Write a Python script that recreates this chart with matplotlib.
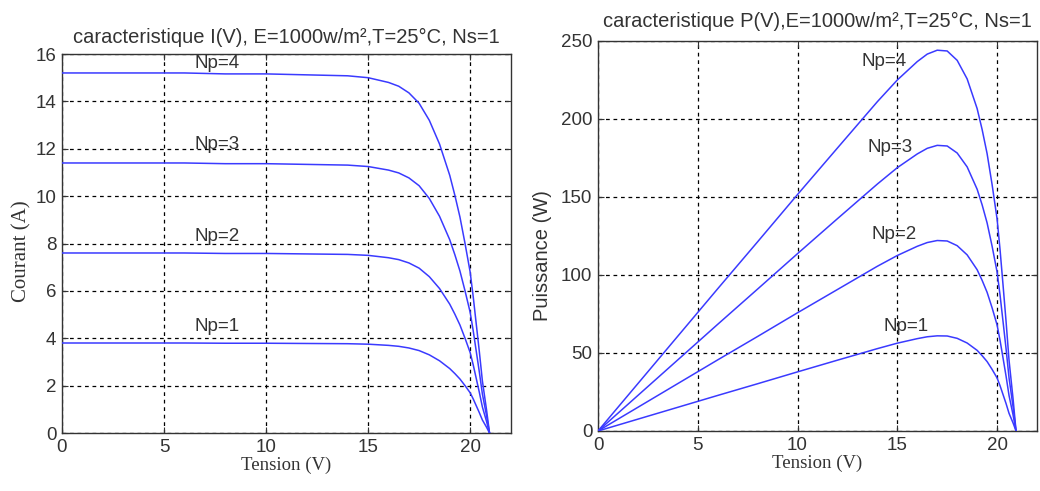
import matplotlib
matplotlib.use("Agg")
import matplotlib.pyplot as plt

# ---- data ----
V = [0, 2, 4, 6, 8, 10, 12, 14, 15, 16, 16.5, 17, 17.5, 18, 18.5, 19, 19.25, 19.5, 19.75, 20, 20.15, 20.3, 20.45, 20.6, 20.8, 20.95]

I_np1 = [3.80, 3.80, 3.80, 3.80, 3.79, 3.79, 3.78, 3.77, 3.75, 3.70, 3.66, 3.59, 3.48, 3.30, 3.05, 2.72, 2.51, 2.28, 2.00, 1.70, 1.44, 1.15, 0.86, 0.55, 0.25, 0.0]
I_np2 = [7.60, 7.60, 7.60, 7.60, 7.58, 7.58, 7.56, 7.54, 7.50, 7.40, 7.32, 7.18, 6.96, 6.60, 6.10, 5.44, 5.02, 4.56, 4.00, 3.40, 2.88, 2.30, 1.72, 1.10, 0.50, 0.0]
I_np3 = [11.40, 11.40, 11.40, 11.40, 11.37, 11.37, 11.34, 11.31, 11.25, 11.10, 10.98, 10.77, 10.44, 9.90, 9.15, 8.16, 7.53, 6.84, 6.00, 5.10, 4.32, 3.45, 2.58, 1.65, 0.75, 0.0]
I_np4 = [15.20, 15.20, 15.20, 15.20, 15.16, 15.16, 15.12, 15.08, 15.00, 14.80, 14.64, 14.36, 13.92, 13.20, 12.20, 10.88, 10.04, 9.12, 8.00, 6.80, 5.76, 4.60, 3.44, 2.20, 1.00, 0.0]

P_np1 = [0, 7.6, 15.2, 22.8, 30.3, 37.9, 45.4, 52.8, 56.3, 59.2, 60.4, 61.0, 60.9, 59.4, 56.4, 51.7, 48.3, 44.5, 39.5, 34.0, 29.0, 23.3, 17.6, 11.3, 5.2, 0]
P_np2 = [0, 15.2, 30.4, 45.6, 60.6, 75.8, 90.7, 105.6, 112.5, 118.4, 120.8, 122.1, 121.8, 118.8, 112.9, 103.4, 96.6, 88.9, 79.0, 68.0, 58.0, 46.7, 35.2, 22.7, 10.4, 0]
P_np3 = [0, 22.8, 45.6, 68.4, 91.0, 113.7, 136.1, 158.3, 168.8, 177.6, 181.2, 183.1, 182.7, 178.2, 169.3, 155.0, 145.0, 133.4, 118.5, 102.0, 87.0, 70.0, 52.8, 34.0, 15.6, 0]
P_np4 = [0, 30.4, 60.8, 91.2, 121.3, 151.6, 181.4, 211.1, 225.0, 236.8, 241.6, 244.1, 243.6, 237.6, 225.7, 206.7, 193.3, 177.8, 158.0, 136.0, 116.1, 93.4, 70.3, 45.3, 20.8, 0]

labels = ["Np=1", "Np=2", "Np=3", "Np=4"]
iv_label_pos = [(6.5, 4.5), (6.5, 8.3), (6.5, 12.2), (6.5, 15.6)]
pv_label_pos = [(14.3, 67), (13.7, 126), (13.5, 182), (13.2, 237)]

x_ticks = [0, 5, 10, 15, 20]
iv_yticks = [0, 2, 4, 6, 8, 10, 12, 14, 16]
pv_yticks = [0, 50, 100, 150, 200, 250]

title_iv = "caracteristique I(V), E=1000w/m\u00b2,T=25\u00b0C, Ns=1"
title_pv = "caracteristique P(V),E=1000w/m\u00b2,T=25\u00b0C, Ns=1"

# ---- figure ----
plt.rcParams['font.family'] = ['Liberation Sans', 'DejaVu Sans']
fig = plt.figure(figsize=(10.4, 4.91), dpi=100)
ax1 = fig.add_axes([0.0596, 0.1181, 0.4317, 0.7719])
ax2 = fig.add_axes([0.575, 0.1222, 0.4221, 0.7943])

line_color = '#3a3aff'
txt_color = '#333333'
grid_kw = dict(color='black', linestyle=(0, (3, 3)), linewidth=0.9)

for I in [I_np1, I_np2, I_np3, I_np4]:
    ax1.plot(V, I, color=line_color, linewidth=1.1, zorder=3)
for P in [P_np1, P_np2, P_np3, P_np4]:
    ax2.plot(V, P, color=line_color, linewidth=1.1, zorder=3)

for lab, (x, y) in zip(labels, iv_label_pos):
    ax1.text(x, y, lab, fontsize=13.5, color=txt_color, ha='left', va='center', zorder=4)
for lab, (x, y) in zip(labels, pv_label_pos):
    ax2.text(x, y, lab, fontsize=13.5, color=txt_color, ha='left', va='center', zorder=4)

ax1.set_xlim(0, 22)
ax1.set_ylim(0, 16)
ax1.set_yticks(iv_yticks)
ax2.set_xlim(0, 22)
ax2.set_ylim(0, 250)
ax2.set_yticks(pv_yticks)

for ax in (ax1, ax2):
    ax.set_xticks(x_ticks)
    ax.grid(True, **grid_kw)
    ax.set_axisbelow(True)
    ax.tick_params(direction='in', top=True, right=True, length=4, width=0.8,
                   labelsize=13.5, labelcolor=txt_color, colors='#333333', pad=4)
    for s in ax.spines.values():
        s.set_linewidth(1.0)
        s.set_color('#333333')

ax1.set_title(title_iv, fontsize=14.5, color=txt_color, pad=8)
ax2.set_title(title_pv, fontsize=14.5, color=txt_color, pad=10)

ax1.set_xlabel("Tension (V)", family=['Liberation Serif', 'DejaVu Serif'], fontsize=13.5, color=txt_color, labelpad=1)
ax2.set_xlabel("Tension (V)", family=['Liberation Serif', 'DejaVu Serif'], fontsize=13.5, color=txt_color, labelpad=1)
ax1.set_ylabel("Courant (A)", family=['Liberation Serif', 'DejaVu Serif'], fontsize=15, color=txt_color)
ax2.set_ylabel("Puissance (W)", fontsize=14.5, color=txt_color)
ax1.yaxis.set_label_coords(-0.068, 0.48)
ax2.yaxis.set_label_coords(-0.105, 0.45)

fig.savefig("out.png", dpi=100)
